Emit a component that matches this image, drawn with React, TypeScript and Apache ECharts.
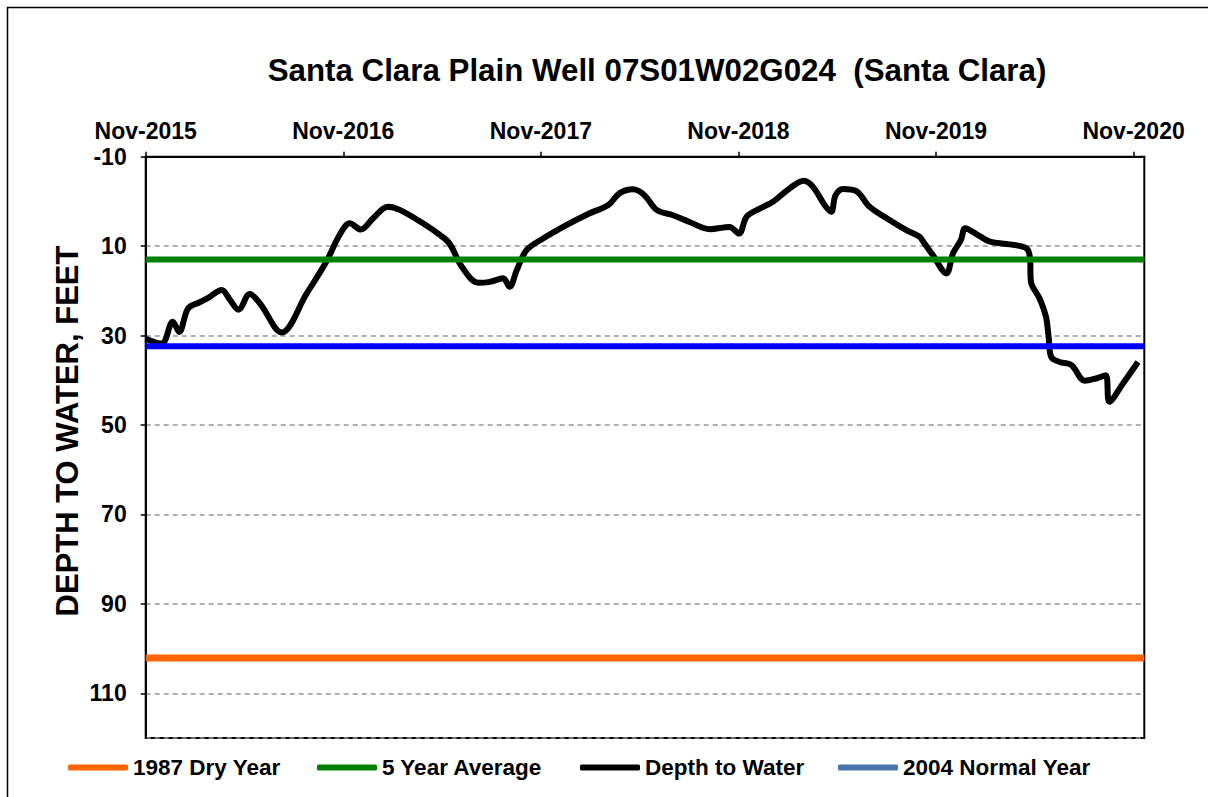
import React, { useEffect, useRef } from 'react';
import * as echarts from 'echarts';

const chartTitle = 'Santa Clara Plain Well 07S01W02G024  (Santa Clara)';
const yAxisTitle = 'DEPTH TO WATER, FEET';
const startYear = 2015; // x axis starts at Nov-2015
const xAxisMaxMonths = 60.65;
const yMin = -10;
const yMax = 120;
const yStep = 20;

const legendNames = ['1987 Dry Year', '5 Year Average', 'Depth to Water', '2004 Normal Year'];

const dryYear1987 = 102.1;
const fiveYearAverage = 13.0;
const normalYear2004 = 32.4;

const depthDates = [
  '2015-11-01', '2015-11-30', '2015-12-21', '2016-01-02', '2016-01-19', '2016-02-10',
  '2016-02-25', '2016-03-20', '2016-04-05', '2016-04-20', '2016-05-11', '2016-05-30',
  '2016-07-09', '2016-08-25', '2016-09-30', '2016-10-25', '2016-11-13', '2016-12-03',
  '2016-12-26', '2017-01-23', '2017-02-13', '2017-03-27', '2017-04-27', '2017-05-15',
  '2017-06-07', '2017-07-07', '2017-07-29', '2017-08-23', '2017-09-04', '2017-09-17',
  '2017-10-05', '2017-11-05', '2017-12-18', '2018-01-30', '2018-03-04', '2018-03-25',
  '2018-04-19', '2018-05-10', '2018-06-02', '2018-07-02', '2018-08-02', '2018-09-09',
  '2018-10-15', '2018-11-02', '2018-11-16', '2018-12-10', '2019-01-04', '2019-02-04',
  '2019-02-28', '2019-03-17', '2019-04-08', '2019-04-20', '2019-04-28', '2019-05-12',
  '2019-06-06', '2019-06-30', '2019-08-07', '2019-09-07', '2019-10-01', '2019-10-08',
  '2019-10-26', '2019-11-20', '2019-12-02', '2019-12-17', '2019-12-25', '2020-01-15',
  '2020-02-09', '2020-03-16', '2020-04-16', '2020-04-22', '2020-04-24', '2020-05-10',
  '2020-05-22', '2020-05-27', '2020-06-01', '2020-06-16', '2020-07-08', '2020-08-02',
  '2020-08-23', '2020-09-10', '2020-09-17', '2020-10-12', '2020-11-09',
];

const depthValues = [
  30.7, 31.8, 26.9, 29.2, 23.9, 22.5,
  21.5, 19.8, 22.1, 24.2, 20.7, 22.8,
  29.3, 20.6, 13.5, 7.5, 4.9, 6.3,
  3.8, 1.2, 1.9, 4.9, 7.5, 9.4,
  14.6, 18.2, 18.0, 17.2, 19.1, 15.4,
  10.9, 8.3, 5.3, 2.7, 0.8, -1.8,
  -2.7, -1.4, 1.9, 3.1, 4.6, 6.2,
  5.7, 7.2, 3.4, 1.6, 0.1, -2.9,
  -4.6, -3.3, 0.8, 2.3, -1.4, -2.8,
  -2.3, 1.2, 4.2, 6.4, 7.9, 9.0,
  12.0, 16.1, 11.6, 8.6, 6.0, 7.3,
  9.0, 9.6, 10.5, 12.5, 18.0, 21.7,
  25.8, 30.3, 34.8, 35.9, 36.6, 40.1,
  39.6, 38.9, 44.8, 40.7, 35.9,
];

const FONT = "'Liberation Sans', Arial, Helvetica, sans-serif";

function toMonths(s: string): number {
  const [y, m, d] = s.split('-').map(Number);
  const dim = new Date(y, m, 0).getDate();
  return (y - startYear) * 12 + (m - 11) + (d - 1) / dim;
}

export default function App() {
  const ref = useRef<HTMLDivElement>(null);

  useEffect(() => {
    document.body.style.margin = '0';
    const chart = echarts.init(ref.current!, null, { renderer: 'svg' });

    const depthData = depthDates.map((d, i) => [toMonths(d), depthValues[i]]);
    const flat = (v: number) => [[0, v], [xAxisMaxMonths, v]];

    const legendStyle = {
      icon: 'roundRect',
      itemWidth: 60,
      itemHeight: 6,
      top: 751,
      textStyle: { fontFamily: FONT, fontWeight: 'bold', fontSize: 22.5, color: '#000' },
      selectedMode: false,
    };

    chart.setOption({
      animation: false,
      backgroundColor: '#fff',
      graphic: [
        {
          type: 'rect',
          shape: { x: 7.5, y: 7.5, width: 1210, height: 800 },
          style: { fill: 'none', stroke: '#000', lineWidth: 1.5 },
          z: 0,
        },
        {
          type: 'text',
          x: 657,
          y: 70,
          style: {
            text: chartTitle,
            font: `bold 31.3px ${FONT}`,
            fill: '#000',
            textAlign: 'center',
            textVerticalAlign: 'middle',
          },
        },
        {
          type: 'text',
          x: 67,
          y: 431,
          rotation: Math.PI / 2,
          style: {
            text: yAxisTitle,
            font: `bold 31px ${FONT}`,
            fill: '#000',
            textAlign: 'center',
            textVerticalAlign: 'middle',
          },
        },
      ],
      grid: {
        left: 145.7,
        top: 156.7,
        right: 1208 - 1144.3,
        bottom: 797 - 738,
        show: true,
        borderColor: '#000',
        borderWidth: 2,
        backgroundColor: 'transparent',
      },
      legend: [
        { ...legendStyle, left: 63, data: [{ name: legendNames[0] }] },
        { ...legendStyle, left: 312, data: [{ name: legendNames[1] }] },
        { ...legendStyle, left: 575, data: [{ name: legendNames[2] }] },
        {
          ...legendStyle,
          left: 833,
          data: [{ name: legendNames[3], itemStyle: { color: '#4a76ad' } }],
        },
      ],
      xAxis: {
        type: 'value',
        position: 'top',
        min: 0,
        max: xAxisMaxMonths,
        interval: 12,
        axisLine: { show: true, onZero: false, lineStyle: { color: '#000', width: 2 } },
        axisTick: { show: true, inside: false, length: 5, lineStyle: { color: '#000', width: 1.5 } },
        axisLabel: {
          showMaxLabel: false,
          margin: 14,
          fontFamily: FONT,
          fontWeight: 'bold',
          fontSize: 23,
          color: '#000',
          formatter: (v: number) =>
            Math.abs(v / 12 - Math.round(v / 12)) < 1e-6 ? `Nov-${startYear + Math.round(v / 12)}` : '',
        },
        splitLine: { show: false },
      },
      yAxis: {
        type: 'value',
        inverse: true,
        min: yMin,
        max: yMax,
        interval: yStep,
        axisLine: { show: true, onZero: false, lineStyle: { color: '#000', width: 2 } },
        axisTick: { show: true, inside: false, length: 5, lineStyle: { color: '#000', width: 1.5 } },
        axisLabel: {
          showMaxLabel: false,
          margin: 19,
          fontFamily: FONT,
          fontWeight: 'bold',
          fontSize: 23,
          color: '#000',
        },
        splitLine: {
          show: true,
          lineStyle: { color: '#959595', width: 1.5, type: [5, 4] },
        },
      },
      series: [
        {
          name: legendNames[2],
          type: 'line',
          data: depthData,
          smooth: 0.35,
          symbol: 'none',
          lineStyle: { color: '#000', width: 6 },
          itemStyle: { color: '#000' },
          z: 2,
        },
        {
          name: legendNames[0],
          type: 'line',
          data: flat(dryYear1987),
          symbol: 'none',
          lineStyle: { color: '#ff6600', width: 7 },
          itemStyle: { color: '#ff6600' },
          z: 3,
        },
        {
          name: legendNames[1],
          type: 'line',
          data: flat(fiveYearAverage),
          symbol: 'none',
          lineStyle: { color: '#008000', width: 6 },
          itemStyle: { color: '#008000' },
          z: 3,
        },
        {
          name: legendNames[3],
          type: 'line',
          data: flat(normalYear2004),
          symbol: 'none',
          lineStyle: { color: '#0000ff', width: 6 },
          itemStyle: { color: '#0000ff' },
          z: 3,
        },
      ],
    });

    return () => chart.dispose();
  }, []);

  return <div ref={ref} style={{ width: 1208, height: 797 }} />;
}
